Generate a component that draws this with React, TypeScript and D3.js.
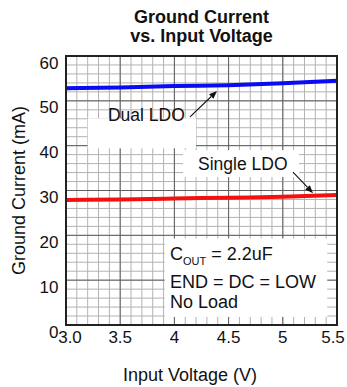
import React from "react";
import * as d3 from "d3";

// Input voltage sample points (V)
const voltages = [3.0, 3.5, 4.0, 4.5, 5.0, 5.5];
// Ground current (mA) for each device
const dualLdo = [52.8, 53.0, 53.3, 53.5, 53.9, 54.5];
const singleLdo = [27.9, 28.0, 28.2, 28.4, 28.6, 29.0];

const xTicks = [3.0, 3.5, 4.0, 4.5, 5.0, 5.5];
const xTickLabels = ["3.0", "3.5", "4", "4.5", "5", "5.5"];
const yTicks = [0, 10, 20, 30, 40, 50, 60];

const W = 347;
const H = 387;
const M = { left: 66, right: 337, top: 56, bottom: 325 };
const FONT = "Liberation Sans, Arial, Helvetica, sans-serif";

export default function App() {
  const x = d3.scaleLinear().domain([3, 5.5]).range([M.left, M.right]);
  const y = d3.scaleLinear().domain([0, 60]).range([M.bottom, M.top]);

  const minorX = d3.range(30, 56).map((v) => v / 10);
  const minorY = d3.range(0, 61, 2);

  const line = d3
    .line<number>()
    .x((_, i) => x(voltages[i]))
    .y((d) => y(d))
    .curve(d3.curveMonotoneX);

  const arrow = (x1: number, y1: number, x2: number, y2: number) => {
    const ang = Math.atan2(y2 - y1, x2 - x1);
    const len = 8;
    const w = 3.2;
    const bx = x2 - len * Math.cos(ang);
    const by = y2 - len * Math.sin(ang);
    const px = -Math.sin(ang) * w;
    const py = Math.cos(ang) * w;
    return (
      <g>
        <line x1={x1} y1={y1} x2={bx} y2={by} stroke="#111" strokeWidth={1.1} />
        <path d={`M${x2},${y2}L${bx + px},${by + py}L${bx - px},${by - py}Z`} fill="#111" />
      </g>
    );
  };

  return (
    <div style={{ position: "absolute", left: 0, top: 0, width: W, height: H, background: "#fff" }}>
      <svg width={W} height={H} style={{ display: "block", fontFamily: FONT }}>
        <rect width={W} height={H} fill="#fff" />
        {/* title */}
        <text x={201.5} y={22.5} textAnchor="middle" fontSize={18} fontWeight="bold" fill="#111">
          Ground Current
        </text>
        <text x={201.5} y={41.5} textAnchor="middle" fontSize={18} fontWeight="bold" fill="#111">
          vs. Input Voltage
        </text>

        {/* minor grid */}
        {minorX.map((v) => (
          <line key={"mx" + v} x1={x(v)} x2={x(v)} y1={M.top} y2={M.bottom} stroke="#b2b2b2" strokeWidth={1} />
        ))}
        {minorY.map((v) => (
          <line key={"my" + v} x1={M.left} x2={M.right} y1={y(v)} y2={y(v)} stroke="#b2b2b2" strokeWidth={1} />
        ))}
        {/* major grid */}
        {xTicks.map((v) => (
          <line key={"gx" + v} x1={x(v)} x2={x(v)} y1={M.top} y2={M.bottom} stroke="#606060" strokeWidth={1} />
        ))}
        {yTicks.map((v) => (
          <line key={"gy" + v} x1={M.left} x2={M.right} y1={y(v)} y2={y(v)} stroke="#606060" strokeWidth={1} />
        ))}

        {/* label backgrounds */}
        <rect x={x(3.2)} y={y(46.1)} width={x(4.2) - x(3.2)} height={y(39.4) - y(46.1)} fill="#fff" />
        <rect x={x(4.08)} y={y(39.0)} width={x(5.15) - x(4.08)} height={y(33.0) - y(39.0)} fill="#fff" />
        <rect x={x(3.91)} y={y(19.3)} width={x(5.41) - x(3.91)} height={y(1.8) - y(19.3)} fill="#fff" />

        {/* series */}
        <path d={line(dualLdo) || ""} fill="none" stroke="#0a0af5" strokeWidth={4} />
        <path d={line(singleLdo) || ""} fill="none" stroke="#f51010" strokeWidth={4} />

        {/* plot border */}
        <rect x={M.left} y={M.top} width={M.right - M.left} height={M.bottom - M.top} fill="none" stroke="#222" strokeWidth={2} />

        {/* annotations */}
        <text x={x(3.387)} y={y(45.5)} fontSize={17.5} fill="#111">Dual LDO</text>
        {arrow(x(4.144), y(46.4), x(4.393), y(52.2))}
        <text x={x(4.218)} y={y(34.6)} fontSize={17.5} fill="#111">Single LDO</text>
        {arrow(x(5.094), y(34.1), x(5.279), y(29.4))}

        <text x={170} y={259.5} fontSize={18} fill="#111">
          C<tspan fontSize={11} dy={5}>OUT</tspan>
          <tspan dy={-5}> = 2.2uF</tspan>
        </text>
        <text x={170} y={288} fontSize={18} fill="#111">END = DC = LOW</text>
        <text x={170} y={307.7} fontSize={18} fill="#111">No Load</text>

        {/* y tick labels */}
        {yTicks.map((v) => (
          <text key={"yl" + v} x={M.left - 7.5} y={y(v) + 12.5} textAnchor="end" fontSize={17} fill="#111">
            {v}
          </text>
        ))}
        {/* x tick labels */}
        {xTicks.map((v, i) => {
          const shift = i === 0 ? 4 : i === xTicks.length - 1 ? -4 : 0;
          return (
            <text key={"xl" + v} x={x(v) + shift} y={343.3} textAnchor="middle" fontSize={17} fill="#111">
              {xTickLabels[i]}
            </text>
          );
        })}

        {/* axis titles */}
        <text x={190} y={381} textAnchor="middle" fontSize={18} fill="#111">Input Voltage (V)</text>
        <text transform={`translate(25,190.5) rotate(-90)`} textAnchor="middle" fontSize={18} fill="#111">
          Ground Current (mA)
        </text>
      </svg>
    </div>
  );
}
